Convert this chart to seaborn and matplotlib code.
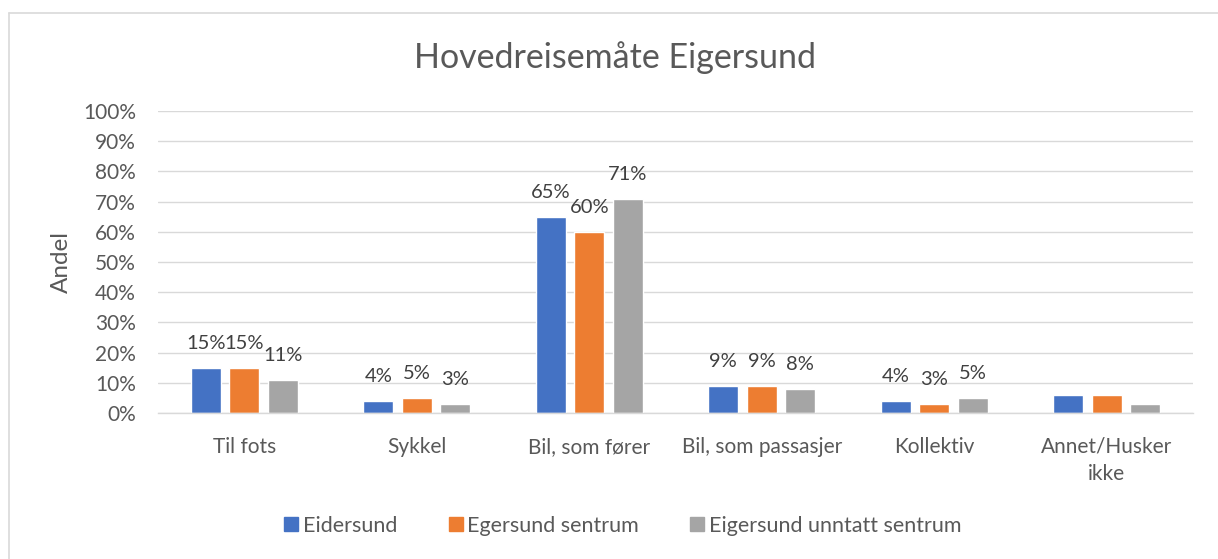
import matplotlib
matplotlib.use("Agg")
import matplotlib.pyplot as plt
from matplotlib.lines import Line2D
from matplotlib.ticker import MultipleLocator, PercentFormatter
import seaborn as sns
import pandas as pd

# Andel per hovedreisemåte (prosent)
categories = ["Til fots", "Sykkel", "Bil, som fører", "Bil, som passasjer",
              "Kollektiv", "Annet/Husker\nikke"]
series_names = ["Eidersund", "Egersund sentrum", "Eigersund unntatt sentrum"]
eidersund = [15, 4, 65, 9, 4, 6]
egersund_sentrum = [15, 5, 60, 9, 3, 6]
eigersund_unntatt = [11, 3, 71, 8, 5, 3]
# Kategorier som får verdietikett over søylene
labelled = [True, True, True, True, True, False]

colors = ["#4472C4", "#ED7D31", "#A5A5A5"]
text_color = "#595959"
grid_color = "#D9D9D9"

rows = []
for name, vals in zip(series_names, [eidersund, egersund_sentrum, eigersund_unntatt]):
    for cat, v in zip(categories, vals):
        rows.append({"Kategori": cat, "Serie": name, "Andel": v / 100})
df = pd.DataFrame(rows)

sns.set_theme(style="white")
plt.rcParams["font.family"] = ["Lato", "DejaVu Sans"]

fig = plt.figure(figsize=(12.18, 5.59), dpi=100)
ax = fig.add_axes([158 / 1218, 1 - 413 / 559, (1193 - 158) / 1218, 302 / 559])

sns.barplot(data=df, x="Kategori", y="Andel", hue="Serie", order=categories,
            hue_order=series_names, palette=colors, width=0.67, gap=0.22,
            saturation=1, legend=False, ax=ax)

ax.set_ylim(0, 1.0)
ax.set_xlim(-0.5, len(categories) - 0.5)
ax.yaxis.set_major_locator(MultipleLocator(0.1))
ax.yaxis.set_major_formatter(PercentFormatter(1.0, decimals=0))
ax.grid(axis="y", color=grid_color, linewidth=1.0)
ax.set_axisbelow(True)
for side in ["top", "right", "left"]:
    ax.spines[side].set_visible(False)
ax.spines["bottom"].set_color(grid_color)
ax.spines["bottom"].set_linewidth(1.0)
ax.tick_params(axis="both", length=0, colors=text_color, labelsize=15)
ax.tick_params(axis="y", pad=16)
ax.tick_params(axis="x", pad=17)
ax.set_xlabel("")
ax.set_ylabel("Andel", fontsize=17.5, color=text_color, labelpad=8)
for lbl in ax.get_xticklabels():
    lbl.set_linespacing(1.45)

# Verdietiketter
for container, name in zip(ax.containers, series_names):
    for bar, show in zip(container.patches, labelled):
        if not show:
            continue
        h = bar.get_height()
        ax.annotate(f"{h * 100:.0f}%", (bar.get_x() + bar.get_width() / 2, h),
                    xytext=(0, 17.5), textcoords="offset points",
                    ha="center", va="center", fontsize=14.5, color="#404040")

fig.text(615 / 1218, 1 - 58 / 559, "Hovedreisemåte Eigersund",
         ha="center", va="center", fontsize=24.5, color=text_color)

handles = [Line2D([], [], marker="s", linestyle="none", markersize=10,
                  markerfacecolor=c, markeredgecolor=c) for c in colors]
fig.legend(handles, series_names, loc="center", ncol=3,
           bbox_to_anchor=(621 / 1218, 1 - 526 / 559), frameon=False,
           fontsize=15.5, labelcolor=text_color, handletextpad=0.05,
           columnspacing=2.2, handlelength=1.0)

# Diagramramme
fig.add_artist(Line2D([8.5 / 1218, 1.0], [1 - 13 / 559, 1 - 13 / 559],
                      color=grid_color, linewidth=1.2))
fig.add_artist(Line2D([8.5 / 1218, 8.5 / 1218], [0, 1 - 13 / 559],
                      color=grid_color, linewidth=1.2))

fig.savefig("out.png", dpi=100, facecolor="white")
